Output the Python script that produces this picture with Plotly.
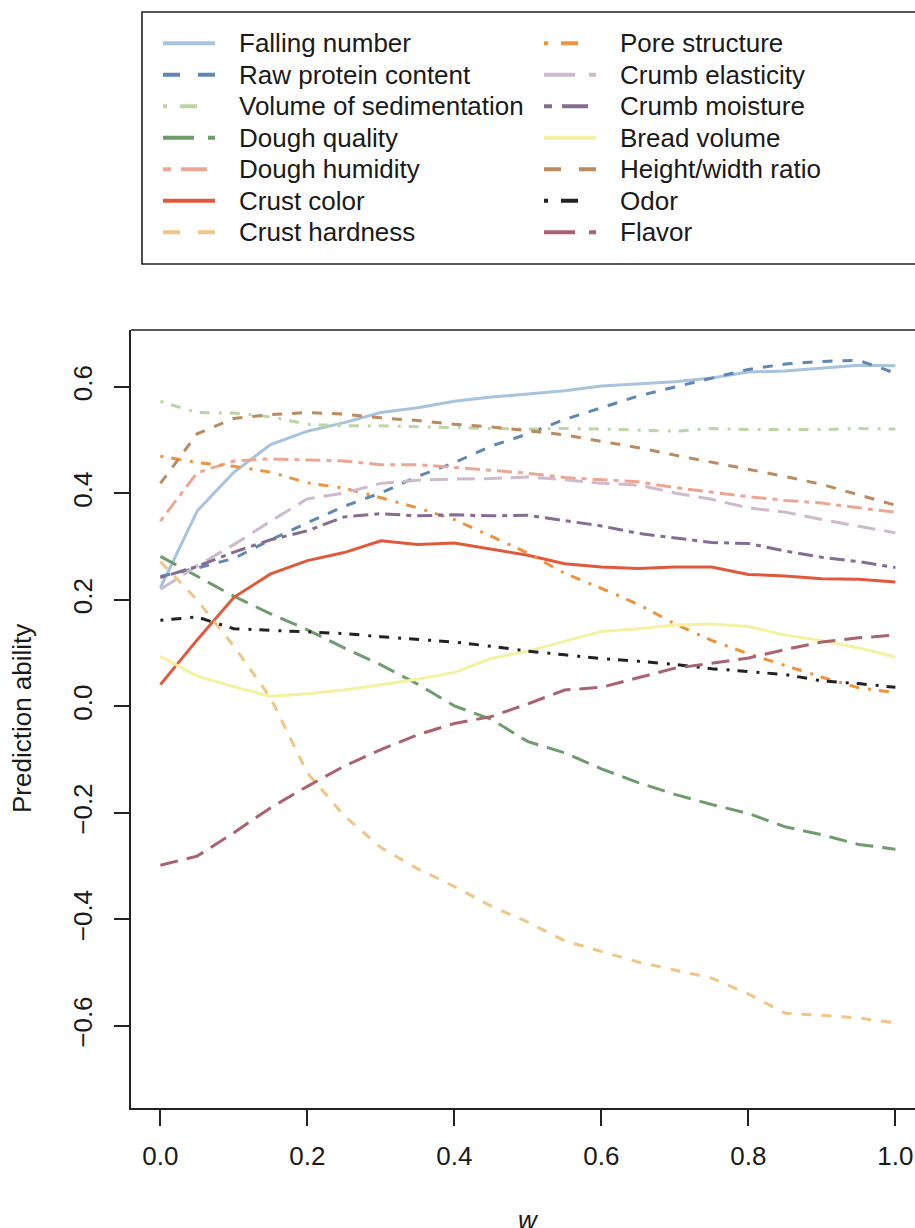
import plotly.graph_objects as go

# ---------------- data ----------------
w = [0.0, 0.05, 0.1, 0.15, 0.2, 0.25, 0.3, 0.35, 0.4, 0.45, 0.5,
     0.55, 0.6, 0.65, 0.7, 0.75, 0.8, 0.85, 0.9, 0.95, 1.0]

falling_number = [0.223, 0.367, 0.440, 0.492, 0.517, 0.533, 0.552, 0.561, 0.573, 0.581, 0.587,
                  0.593, 0.602, 0.606, 0.610, 0.617, 0.628, 0.630, 0.635, 0.641, 0.640]
raw_protein = [0.244, 0.260, 0.278, 0.313, 0.345, 0.376, 0.401, 0.432, 0.458, 0.489, 0.512,
               0.539, 0.561, 0.583, 0.600, 0.617, 0.633, 0.643, 0.648, 0.650, 0.626]
volume_sedimentation = [0.573, 0.552, 0.551, 0.544, 0.530, 0.527, 0.527, 0.525, 0.524, 0.522, 0.521,
                        0.522, 0.521, 0.519, 0.517, 0.522, 0.520, 0.520, 0.520, 0.522, 0.521]
dough_quality = [0.282, 0.244, 0.207, 0.174, 0.144, 0.110, 0.078, 0.042, 0.001, -0.024, -0.066,
                 -0.087, -0.117, -0.143, -0.165, -0.184, -0.201, -0.226, -0.241, -0.259, -0.268]
dough_humidity = [0.348, 0.439, 0.461, 0.465, 0.463, 0.461, 0.454, 0.454, 0.449, 0.444, 0.438,
                  0.430, 0.426, 0.422, 0.411, 0.402, 0.394, 0.387, 0.382, 0.373, 0.365]
crust_color = [0.041, 0.125, 0.205, 0.249, 0.274, 0.289, 0.311, 0.304, 0.307, 0.296, 0.284,
               0.268, 0.262, 0.259, 0.262, 0.262, 0.248, 0.245, 0.240, 0.239, 0.234]
crust_hardness = [0.272, 0.200, 0.113, 0.016, -0.125, -0.205, -0.265, -0.305, -0.338, -0.375, -0.405,
                  -0.440, -0.460, -0.480, -0.495, -0.510, -0.540, -0.576, -0.580, -0.585, -0.594]
pore_structure = [0.470, 0.458, 0.451, 0.440, 0.420, 0.410, 0.392, 0.373, 0.351, 0.320, 0.288,
                  0.250, 0.222, 0.192, 0.155, 0.124, 0.099, 0.077, 0.055, 0.035, 0.026]
crumb_elasticity = [0.220, 0.264, 0.304, 0.348, 0.390, 0.401, 0.419, 0.425, 0.427, 0.428, 0.431,
                    0.426, 0.419, 0.416, 0.401, 0.389, 0.373, 0.365, 0.351, 0.339, 0.326]
crumb_moisture = [0.242, 0.263, 0.290, 0.313, 0.330, 0.356, 0.362, 0.358, 0.360, 0.358, 0.359,
                  0.349, 0.339, 0.325, 0.317, 0.308, 0.306, 0.292, 0.280, 0.272, 0.261]
bread_volume = [0.094, 0.057, 0.037, 0.019, 0.024, 0.031, 0.041, 0.051, 0.064, 0.090, 0.104,
                0.123, 0.141, 0.146, 0.153, 0.155, 0.150, 0.134, 0.124, 0.110, 0.093]
height_width = [0.419, 0.512, 0.541, 0.548, 0.552, 0.549, 0.542, 0.537, 0.530, 0.525, 0.518,
                0.510, 0.498, 0.486, 0.472, 0.459, 0.445, 0.432, 0.417, 0.398, 0.378]
odor = [0.162, 0.168, 0.146, 0.143, 0.141, 0.137, 0.131, 0.126, 0.121, 0.113, 0.104,
        0.097, 0.090, 0.085, 0.079, 0.071, 0.065, 0.060, 0.048, 0.043, 0.036]
flavor = [-0.298, -0.281, -0.237, -0.190, -0.150, -0.112, -0.081, -0.053, -0.032, -0.019, 0.005,
          0.031, 0.036, 0.054, 0.072, 0.081, 0.091, 0.107, 0.121, 0.129, 0.134]

names = ["Falling number", "Raw protein content", "Volume of sedimentation", "Dough quality",
         "Dough humidity", "Crust color", "Crust hardness", "Pore structure",
         "Crumb elasticity", "Crumb moisture", "Bread volume", "Height/width ratio",
         "Odor", "Flavor"]
series = [falling_number, raw_protein, volume_sedimentation, dough_quality, dough_humidity,
          crust_color, crust_hardness, pore_structure, crumb_elasticity, crumb_moisture,
          bread_volume, height_width, odor, flavor]

x_ticks = [0.0, 0.2, 0.4, 0.6, 0.8, 1.0]
x_ticklabels = ["0.0", "0.2", "0.4", "0.6", "0.8", "1.0"]
y_ticks = [-0.6, -0.4, -0.2, 0.0, 0.2, 0.4, 0.6]
y_ticklabels = ["\u22120.6", "\u22120.4", "\u22120.2", "0.0", "0.2", "0.4", "0.6"]

# ---------------- styles ----------------
colors = ["#A8C3DE", "#5F87B4", "#BCD6A3", "#6E9C6C", "#EEA694", "#DF5A3C", "#F1C586",
          "#F0923C", "#CDBACD", "#866C92", "#F4F1A2", "#BD895F", "#222222", "#AA6270"]
plot_dash = {"solid": "solid", "dashed": "10px,10px", "dotdash": "3px,8px,10px,9px",
             "longdash": "18px,9px", "twodash": "5px,6px,15px,6px"}
leg_dash = {"solid": "solid", "dashed": "17px,18px", "dotdash": "4px,13px,17px,18px",
            "longdash": "31px,14px", "twodash": "8px,10px,26px,10px"}
lty_cycle = ["solid", "dashed", "dotdash", "longdash", "twodash"]

FONT = "Liberation Sans, Arial, Helvetica, sans-serif"
FS = 26

# pixel geometry
FW, FH = 915, 1228
L, T, B = 131, 330, 1108
PW, PH = FW - L, B - T


def px(x):
    return (x - L) / PW


def py(y):
    return (B - y) / PH


fig = go.Figure()
for i, (nm, ys) in enumerate(zip(names, series)):
    fig.add_trace(go.Scatter(
        x=w, y=ys, mode="lines", name=nm,
        line=dict(color=colors[i], width=3, dash=plot_dash[lty_cycle[i % 5]]),
        hoverinfo="skip", showlegend=False))

shapes = []
annotations = []

# top border of plot box
shapes.append(dict(type="line", xref="paper", yref="paper", x0=0, x1=1.05, y0=1, y1=1,
                   line=dict(color="#222222", width=1.6)))

# legend box
shapes.append(dict(type="rect", xref="paper", yref="paper",
                   x0=px(142), x1=px(945), y0=py(264), y1=py(12),
                   line=dict(color="#222222", width=1.6), fillcolor="rgba(0,0,0,0)"))

row_y = [43.3, 74.8, 106.3, 137.8, 169.3, 200.8, 232.3]
col_line = [(163, 215), (544, 596)]
col_text = [237, 618]
for i, nm in enumerate(names):
    c = i // 7
    r = i % 7
    x0, x1 = col_line[c]
    shapes.append(dict(type="line", xref="paper", yref="paper",
                       x0=px(x0), x1=px(x1), y0=py(row_y[r]), y1=py(row_y[r]),
                       line=dict(color=colors[i], width=4, dash=leg_dash[lty_cycle[i % 5]])))
    annotations.append(dict(text=nm, xref="paper", yref="paper", x=px(col_text[c]), y=py(row_y[r]),
                            xanchor="left", yanchor="middle", showarrow=False,
                            font=dict(family=FONT, size=FS, color="#1a1a1a")))

# axis titles
annotations.append(dict(text="Prediction ability", xref="paper", yref="paper",
                        x=px(22), y=py(719), textangle=-90, xanchor="center", yanchor="middle",
                        showarrow=False, font=dict(family=FONT, size=FS, color="#1a1a1a")))
annotations.append(dict(text="<i>w</i>", xref="paper", yref="paper",
                        x=px(528), y=py(1220), xanchor="center", yanchor="middle",
                        showarrow=False, font=dict(family=FONT, size=FS, color="#1a1a1a")))

xr0 = -0.04
xr1 = xr0 + PW / 735.0
fig.update_layout(
    width=FW, height=FH,
    margin=dict(l=L, r=0, t=T, b=FH - B, pad=0),
    paper_bgcolor="white", plot_bgcolor="white",
    showlegend=False,
    font=dict(family=FONT, size=FS, color="#1a1a1a"),
    shapes=shapes, annotations=annotations,
    xaxis=dict(range=[xr0, xr1], tickvals=x_ticks, ticktext=x_ticklabels,
               ticks="outside", ticklen=16, tickwidth=1.6, tickcolor="#222222",
               showline=True, linecolor="#222222", linewidth=1.6,
               showgrid=False, zeroline=False, ticklabelstandoff=8,
               tickfont=dict(family=FONT, size=FS, color="#1a1a1a")),
    yaxis=dict(range=[-0.754, 0.707], tickvals=y_ticks, ticktext=y_ticklabels,
               ticks="outside", ticklen=15, tickwidth=1.6, tickcolor="#222222",
               showline=True, linecolor="#222222", linewidth=1.6,
               showgrid=False, zeroline=False, tickangle=-90, ticklabelstandoff=12,
               tickfont=dict(family=FONT, size=FS, color="#1a1a1a")),
)

fig.write_html("out.html")
